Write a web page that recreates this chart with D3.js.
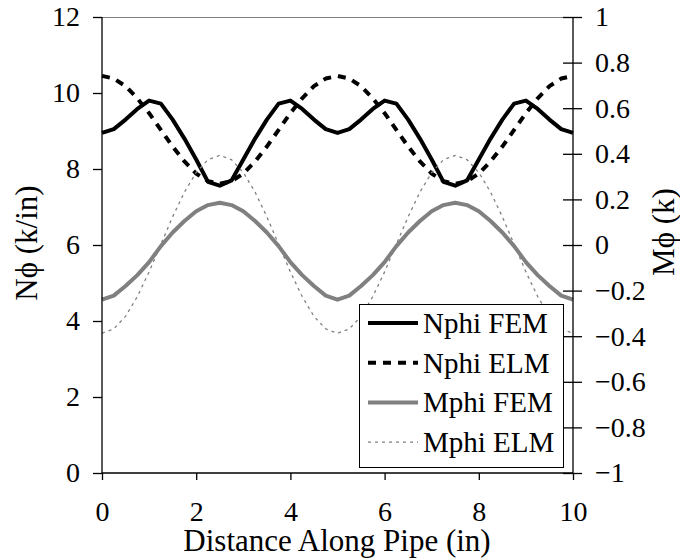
<!DOCTYPE html>
<html>
<head>
<meta charset="utf-8">
<script src="https://cdn.jsdelivr.net/npm/d3@7"></script>
<style>
  html, body { margin: 0; padding: 0; background: #fff; }
  svg { display: block; }
</style>
</head>
<body>
<svg id="chart" width="680" height="558"></svg>
<script>
// Distance along pipe (in), sampled every quarter inch
const distance = [0, 0.25, 0.5, 0.75, 1, 1.25, 1.5, 1.75, 2, 2.25, 2.5, 2.75, 3, 3.25, 3.5, 3.75, 4, 4.25, 4.5, 4.75,
                  5, 5.25, 5.5, 5.75, 6, 6.25, 6.5, 6.75, 7, 7.25, 7.5, 7.75, 8, 8.25, 8.5, 8.75, 9, 9.25, 9.5, 9.75, 10];

// Hoop force N-phi (k/in), left axis
const nphiFEM = [8.95, 9.05, 9.30, 9.58, 9.80, 9.72, 9.30, 8.80, 8.25, 7.66, 7.56, 7.70, 8.25, 8.80, 9.30, 9.72, 9.80, 9.58, 9.30, 9.05,
                 8.95, 9.05, 9.30, 9.58, 9.80, 9.72, 9.30, 8.80, 8.25, 7.66, 7.56, 7.70, 8.25, 8.80, 9.30, 9.72, 9.80, 9.58, 9.30, 9.05, 8.95];
const nphiELM = [10.45, 10.38, 10.18, 9.86, 9.47, 9.03, 8.59, 8.20, 7.88, 7.68, 7.61, 7.68, 7.88, 8.20, 8.59, 9.03, 9.47, 9.86, 10.18, 10.38,
                 10.45, 10.38, 10.18, 9.86, 9.47, 9.03, 8.59, 8.20, 7.88, 7.68, 7.61, 7.68, 7.88, 8.20, 8.59, 9.03, 9.47, 9.86, 10.18, 10.38, 10.45];

// Hoop moment M-phi (k), right axis
const mphiFEM = [-0.240, -0.222, -0.180, -0.132, -0.075, -0.005, 0.055, 0.105, 0.148, 0.175, 0.185, 0.175, 0.148, 0.105, 0.055, -0.005, -0.075, -0.132, -0.180, -0.222,
                 -0.240, -0.222, -0.180, -0.132, -0.075, -0.005, 0.055, 0.105, 0.148, 0.175, 0.185, 0.175, 0.148, 0.105, 0.055, -0.005, -0.075, -0.132, -0.180, -0.222, -0.240];
const mphiELM = [-0.387, -0.368, -0.313, -0.226, -0.118, 0.003, 0.124, 0.232, 0.318, 0.374, 0.393, 0.374, 0.318, 0.232, 0.124, 0.003, -0.118, -0.226, -0.313, -0.368,
                 -0.387, -0.368, -0.313, -0.226, -0.118, 0.003, 0.124, 0.232, 0.318, 0.374, 0.393, 0.374, 0.318, 0.232, 0.124, 0.003, -0.118, -0.226, -0.313, -0.368, -0.387];

// Axis ticks and labels
const xTicks = [0, 2, 4, 6, 8, 10];
const leftTicks = [0, 2, 4, 6, 8, 10, 12];
const rightTicks = [-1, -0.8, -0.6, -0.4, -0.2, 0, 0.2, 0.4, 0.6, 0.8, 1];
const xTitle = "Distance Along Pipe (in)";
const leftTitle = "N\u03D5 (k/in)";
const rightTitle = "M\u03D5 (k)";

const seriesNames = ["Nphi FEM", "Nphi ELM", "Mphi FEM", "Mphi ELM"];

const FONT = '"Liberation Serif", "Times New Roman", Tinos, serif';
const svg = d3.select("#chart");
const plot = { left: 102, right: 573, top: 17, bottom: 473 };

const x = d3.scaleLinear().domain([0, 10]).range([plot.left, plot.right]);
const yL = d3.scaleLinear().domain([0, 12]).range([plot.bottom, plot.top]);
const yR = d3.scaleLinear().domain([-1, 1]).range([plot.bottom, plot.top]);

// Frame top edge
svg.append("line")
  .attr("x1", plot.left).attr("x2", plot.right)
  .attr("y1", plot.top + 0.5).attr("y2", plot.top + 0.5)
  .attr("stroke", "#808080").attr("stroke-width", 1);

const styles = [
  { color: "#000", width: 4, dash: null, axis: "L", data: nphiFEM },
  { color: "#000", width: 4, dash: "8,7", axis: "L", data: nphiELM },
  { color: "#808080", width: 4, dash: null, axis: "R", data: mphiFEM },
  { color: "#808080", width: 1.3, dash: "3,4", axis: "R", data: mphiELM }
];

styles.forEach(s => {
  const ys = s.axis === "L" ? yL : yR;
  const line = d3.line().x((d, i) => x(distance[i])).y(d => ys(d));
  svg.append("path")
    .datum(s.data)
    .attr("d", line)
    .attr("fill", "none")
    .attr("stroke", s.color)
    .attr("stroke-width", s.width)
    .attr("stroke-linejoin", "round")
    .attr("stroke-dasharray", s.dash);
});

// Axes
const fontSize = 28;
const gx = svg.append("g").attr("transform", `translate(0,${plot.bottom})`)
  .call(d3.axisBottom(x).tickValues(xTicks).tickSize(7).tickPadding(21).tickFormat(d3.format("d")));
const gl = svg.append("g").attr("transform", `translate(${plot.left},0)`)
  .call(d3.axisLeft(yL).tickValues(leftTicks).tickSize(9).tickPadding(13).tickFormat(d3.format("d")));
const gr = svg.append("g").attr("transform", `translate(${plot.right},0)`)
  .call(d3.axisRight(yR).tickValues(rightTicks).tickSize(9).tickPadding(13).tickFormat(d => d3.format("")(+d.toFixed(1))));

[gx, gl, gr].forEach(g => {
  g.attr("font-family", FONT).attr("font-size", fontSize);
  g.select(".domain").attr("stroke", "#000").attr("stroke-width", 1.3);
  g.selectAll(".tick line").attr("stroke", "#000").attr("stroke-width", 1.3);
  g.selectAll(".tick text")
    .attr("font-family", FONT)
    .attr("font-size", fontSize).attr("fill", "#000");
});
gx.select(".domain").attr("d", `M${plot.left},0H${plot.right}`);
gl.select(".domain").attr("d", `M0,${plot.bottom}V${plot.top}`);
gr.select(".domain").attr("d", `M0,${plot.bottom}V${plot.top}`);
// right-axis ticks cross the axis line
gr.selectAll(".tick line").attr("x1", -10).attr("x2", 9);
gr.selectAll(".tick text").attr("x", 22);

// Axis titles
svg.append("text")
  .attr("x", 337).attr("y", 551)
  .attr("font-family", FONT)
  .attr("text-anchor", "middle").attr("font-size", 31)
  .text(xTitle);
svg.append("text")
  .attr("transform", "translate(37,243) rotate(-90)")
  .attr("font-family", FONT)
  .attr("text-anchor", "middle").attr("font-size", 31)
  .text(leftTitle);
svg.append("text")
  .attr("transform", "translate(674,232) rotate(-90)")
  .attr("font-family", FONT)
  .attr("text-anchor", "middle").attr("font-size", 31)
  .text(rightTitle);

// Legend
const lg = svg.append("g");
lg.append("rect")
  .attr("x", 359.5).attr("y", 304.5).attr("width", 204).attr("height", 163)
  .attr("fill", "#fff").attr("stroke", "#000").attr("stroke-width", 1);
seriesNames.forEach((name, i) => {
  const cy = 323 + i * 39.7;
  const s = styles[i];
  lg.append("line")
    .attr("x1", 368).attr("x2", 418).attr("y1", cy).attr("y2", cy)
    .attr("stroke", s.color).attr("stroke-width", s.width)
    .attr("stroke-dasharray", s.dash);
  lg.append("text")
    .attr("x", 423).attr("y", cy + 10)
    .attr("font-family", FONT)
    .attr("font-size", 29)
    .text(name);
});
</script>
</body>
</html>
